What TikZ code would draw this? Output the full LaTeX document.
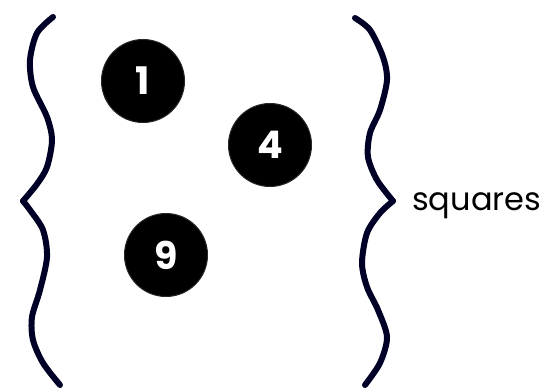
\documentclass[tikz,border=0pt]{standalone}
\usepackage{fontspec}
\setmainfont{Poppins}
\usepackage{tikz}
\usetikzlibrary{positioning}

\begin{document}
\begin{tikzpicture}[x=1pt, y=-1pt,
    elem/.style={circle, fill=black, draw=black!85, line width=1pt, minimum size=83pt,
                 inner sep=0pt, text=white, font=\fontsize{38}{40}\selectfont\bfseries},
    brace/.style={line width=6pt, line cap=round, color=black!85!blue}]
    \useasboundingbox (0,0) rectangle (544,391);

    % the set members
    \node[elem] (n1) at (143,81) {1};
    \node[elem] (n4) at (270,145) {4};
    \node[elem] (n9) at (166,255) {9};

    % left brace
    \draw[brace] plot[smooth] coordinates {(53,17) (37,33) (30,60) (33,87) (47,117) (52,140) (47,167) (37,184) (23,201)};
    \draw[brace] plot[smooth] coordinates {(23,201) (30,210) (43,230) (47,257) (40,290) (32,317) (33,340) (43,363) (60,385)};

    % right brace
    \draw[brace] plot[smooth] coordinates {(355,18) (370,30) (383,57) (387,80) (380,110) (370,133) (368,157) (377,180) (393,201)};
    \draw[brace] plot[smooth] coordinates {(393,201) (380,213) (367,233) (362,263) (367,287) (378,310) (387,337) (380,363) (365,385)};

    \node[anchor=base west, inner sep=0pt, font=\fontsize{32}{34}\selectfont] (sq) at (412,210) {squares};
\end{tikzpicture}
\end{document}
